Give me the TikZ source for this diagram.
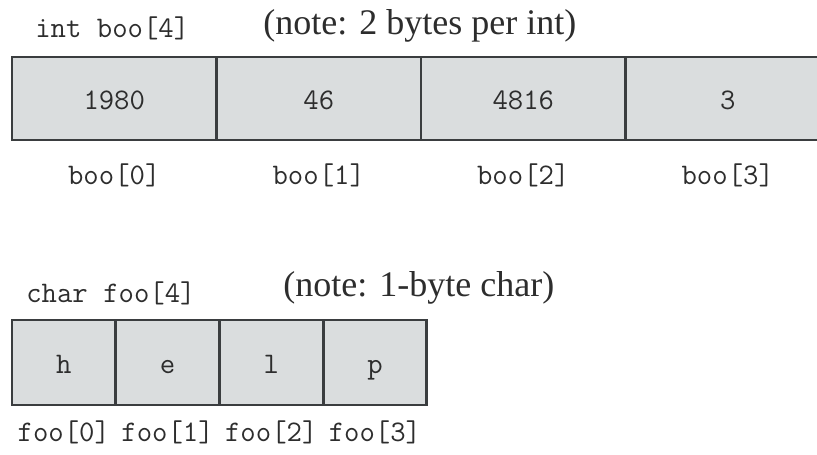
\documentclass[tikz,border=0pt]{standalone}
\usepackage{fontspec}
\setmainfont{Liberation Serif}
\definecolor{zellgrau}{RGB}{218,221,222}
\definecolor{randgrau}{RGB}{58,61,63}
\definecolor{textgrau}{RGB}{45,45,45}
\usetikzlibrary{positioning}

\begin{document}
\begin{tikzpicture}[x=0.02cm, y=0.02cm,
			zelle/.style={draw=randgrau, fill=zellgrau, line width=1.6pt, inner sep=0pt, outer sep=0pt, text=textgrau, text height=12.5pt, text depth=0pt, font=\fontsize{17}{20}\ttfamily},
			intzelle/.style={zelle, minimum width=4.09cm, minimum height=1.66cm},
			charzelle/.style={zelle, minimum width=2.074cm, minimum height=1.7cm},
			mono/.style={anchor=base, inner sep=0pt, text=textgrau, font=\fontsize{17}{20}\ttfamily},
			notiz/.style={anchor=base west, inner sep=0pt, text=textgrau, font=\fontsize{20.5}{24}\selectfont}]
			%Bildbereich
			\useasboundingbox (0,0) rectangle (817,454);
			% int-Feld oben
			\node[mono, anchor=base west] (intdecl) at (35,417) {int boo[4]};
			\node[notiz] (intnote) at (263,419) {(note: 2 bytes per int)};
			\foreach \w [count=\i from 0] in {1980,46,4816,3} {
				\node[intzelle] (boo\i) at ({114.25+204.5*\i},355.5) {\w};
				\node[mono] (boolbl\i) at ({114.25+204.5*\i},270) {boo[\i]};
			}
			% char-Feld unten
			\node[mono, anchor=base west] (chardecl) at (26,152) {char foo[4]};
			\node[notiz] (charnote) at (283,158) {(note: 1-byte char)};
			\foreach \c [count=\i from 0] in {h,e,l,p} {
				\node[charzelle] (foo\i) at ({63.85+103.7*\i},91.5) {\c};
				\node[mono] (foolbl\i) at ({63.85+103.7*\i},13) {foo[\i]};
			}
		\end{tikzpicture}
\end{document}
